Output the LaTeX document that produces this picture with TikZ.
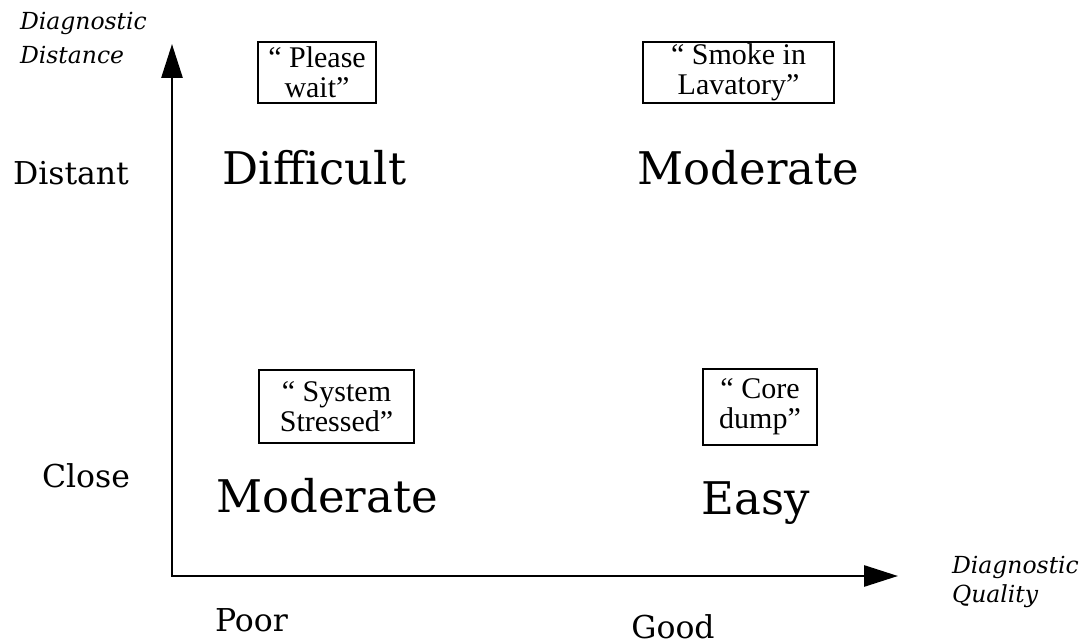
\documentclass[tikz,border=0pt]{standalone}
\usepackage{fontspec}
\setmainfont{Liberation Serif}
\newfontfamily\labfont{DejaVu Serif}
\usetikzlibrary{arrows.meta}
\begin{document}
\begin{tikzpicture}[x=1pt,y=-1pt,
  every node/.style={inner sep=0pt,outer sep=0pt},
  biglabel/.style={anchor=base,font=\labfont\fontsize{45}{50}\selectfont},
  axislabel/.style={anchor=base,font=\labfont\fontsize{31.5}{36}\selectfont},
  axisname/.style={anchor=base west,align=left,font=\labfont\itshape\fontsize{23.5}{34}\selectfont},
  quotebox/.style={draw,line width=2pt,align=center,font=\fontsize{30}{30}\selectfont},
  axisline/.style={line width=2.8pt,line join=miter,{Triangle[length=34pt,width=21pt]}-{Triangle[length=34pt,width=21pt]}}]
\useasboundingbox (0,0) rectangle (1090,644);

% axes
\coordinate (ytip) at (172,44);
\coordinate (origin) at (172,576);
\coordinate (xtip) at (898,576);
\draw[axisline] (ytip) -- (origin) -- (xtip);

% axis names
\node[axisname] (yname) at (20,64) {Diagnostic\\Distance};
\node[axisname,font=\labfont\itshape\fontsize{23.5}{29}\selectfont] (xname) at (952,602) {Diagnostic\\Quality};

% axis value labels
\node[axislabel,anchor=base west] (distant) at (13,185) {Distant};
\node[axislabel,anchor=base west] (close) at (42,487) {Close};
\node[axislabel] (poor) at (251.5,631) {Poor};
\node[axislabel] (good) at (673,638) {Good};

% quadrant labels
\node[biglabel] (difficult) at (314.5,185) {Difficult};
\node[biglabel] (modtop) at (748.5,185) {Moderate};
\node[biglabel] (modbot) at (327,512) {Moderate};
\node[biglabel] (easy) at (755.5,514) {Easy};

% example messages
\node[quotebox,minimum width=118pt,minimum height=61pt] (please) at (317,72.5) {`` Please\\wait''};
\node[quotebox,minimum width=191pt,minimum height=61pt] (smoke) at (738.5,72.5) {`` Smoke in\\Lavatory''};
\node[quotebox,minimum width=155pt,minimum height=73pt] (system) at (336.5,406.5) {`` System\\Stressed''};
\node[quotebox,minimum width=114pt,minimum height=76pt] (core) at (760,407) {`` Core\\dump''};
\end{tikzpicture}
\end{document}
